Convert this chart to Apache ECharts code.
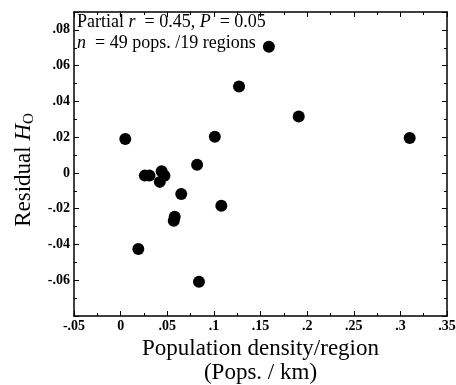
<!DOCTYPE html>
<html>
<head>
<meta charset="utf-8">
<script src="https://cdn.jsdelivr.net/npm/echarts@6/dist/echarts.min.js"></script>
<style>
  html, body { margin: 0; padding: 0; background: #fff; }
  #chart { width: 456px; height: 385px; }
</style>
</head>
<body>
<div id="chart"></div>
<script>
// population density per region vs residual Ho
var density = [0.005, 0.019, 0.026, 0.031, 0.044, 0.047, 0.042, 0.065, 0.058, 0.057, 0.082, 0.084, 0.101, 0.108, 0.127, 0.159, 0.191, 0.310];
var residual = [0.019, -0.0425, -0.0015, -0.0015, 0.0009, -0.0016, -0.005, -0.0118, -0.0245, -0.0267, 0.0046, -0.0608, 0.0203, -0.0183, 0.0483, 0.0706, 0.0315, 0.0196];

var xRange = [-0.05, 0.35];
var yRange = [-0.08, 0.09];
var xStep = 0.05;
var yStep = 0.02;

var serif = '"Liberation Serif", "DejaVu Serif", serif';

var points = density.map(function (x, i) {
    return [x, residual[i]];
});

// .05 style labels, no leading zero
function fmt(v) {
    var s = String(+v.toFixed(3));
    return s.replace('0.', '.');
}

function axisBase(min, max, step) {
    return {
        type: 'value',
        min: min,
        max: max,
        interval: step,
        splitLine: {show: false},
        axisLine: {show: true, onZero: false, lineStyle: {color: '#000', width: 1.5}},
        axisTick: {show: true, inside: true, length: 5, lineStyle: {color: '#000', width: 1}},
        minorTick: {show: true, splitNumber: 2, length: 3, lineStyle: {color: '#000', width: 1}}
    };
}

var xMain = axisBase(xRange[0], xRange[1], xStep);
xMain.position = 'bottom';
xMain.axisLabel = {
    color: '#000', fontFamily: serif, fontSize: 14, fontWeight: 'bold', margin: 3,
    formatter: fmt
};
xMain.name = '{t|Population density/region}\n{t|(Pops. / km)}';
xMain.nameLocation = 'middle';
xMain.nameGap = 21;
xMain.nameTextStyle = {
    rich: {t: {fontFamily: serif, fontSize: 23, color: '#000', lineHeight: 24}}
};

var xTop = axisBase(xRange[0], xRange[1], xStep);
xTop.position = 'top';
xTop.axisLabel = {show: false};

var yMain = axisBase(yRange[0], yRange[1], yStep);
yMain.position = 'left';
yMain.axisLabel = {
    color: '#000', fontFamily: serif, fontSize: 14, fontWeight: 'bold', margin: 4,
    showMinLabel: false, showMaxLabel: false,
    formatter: fmt
};
yMain.name = '{t|Residual }{i|H}{s|O}';
yMain.nameLocation = 'middle';
yMain.nameGap = 36;
yMain.nameTextStyle = {
    padding: [0, 12, 0, 0],
    rich: {
        t: {fontFamily: serif, fontSize: 23, color: '#000'},
        i: {fontFamily: serif, fontSize: 23, fontStyle: 'italic', color: '#000'},
        s: {fontFamily: serif, fontSize: 15, color: '#000', verticalAlign: 'bottom', padding: [10, 0, 0, 0]}
    }
};

var yRight = axisBase(yRange[0], yRange[1], yStep);
yRight.position = 'right';
yRight.axisLabel = {show: false};

var option = {
    backgroundColor: '#fff',
    animation: false,
    grid: {left: 74, right: 9, top: 12, bottom: 69, show: false, containLabel: false, outerBoundsMode: 'none'},
    xAxis: [xMain, xTop],
    yAxis: [yMain, yRight],
    graphic: [{
        type: 'text',
        left: 77,
        top: 13,
        style: {
            text: '{n|Partial }{i|r}{n|  = 0.45, }{i|P}{n|  = 0.05}\n{i|n}{n|  = 49 pops. /19 regions}',
            rich: {
                n: {fontFamily: serif, fontSize: 18, fill: '#000', lineHeight: 21},
                i: {fontFamily: serif, fontSize: 18, fontStyle: 'italic', fill: '#000', lineHeight: 21}
            }
        }
    }],
    series: [{
        type: 'scatter',
        xAxisIndex: 0,
        yAxisIndex: 0,
        symbol: 'circle',
        symbolSize: 12,
        itemStyle: {color: '#000', opacity: 1},
        data: points
    }]
};

echarts.init(document.getElementById('chart')).setOption(option);
</script>
</body>
</html>
